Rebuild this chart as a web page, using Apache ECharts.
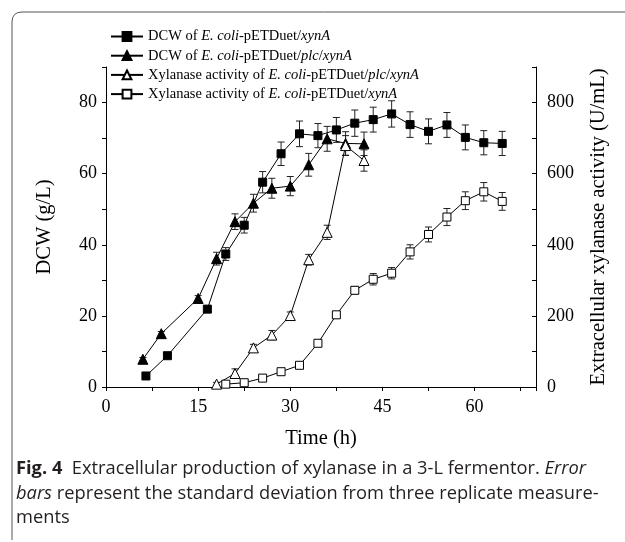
<!DOCTYPE html>
<html>
<head>
<meta charset="utf-8">
<script src="https://cdn.jsdelivr.net/npm/echarts@6/dist/echarts.min.js"></script>
<style>
html,body{margin:0;padding:0;background:#fff;}
#chart{width:625px;height:542px;}
</style>
</head>
<body>
<div id="chart"></div>
<script>
// ---- Data (time in h; DCW in g/L; xylanase in U/mL) ----
const seriesNames = [
  'DCW of E. coli-pETDuet/xynA',
  'DCW of E. coli-pETDuet/plc/xynA',
  'Xylanase activity of E. coli-pETDuet/plc/xynA',
  'Xylanase activity of E. coli-pETDuet/xynA'
];
const timeXynA = [6.5, 10, 16.5, 19.5, 22.5, 25.5, 28.5, 31.5, 34.5, 37.5, 40.5, 43.5, 46.5, 49.5, 52.5, 55.5, 58.5, 61.5, 64.5];
const dcwXynA = [3.1, 8.8, 21.9, 37.4, 45.5, 57.6, 65.6, 71.2, 70.7, 72.3, 74.2, 75.2, 76.8, 73.8, 71.9, 73.7, 70.2, 68.7, 68.5];
const dcwXynAErr = [0.5, 0.6, 0.8, 1.8, 2.2, 3.0, 3.3, 3.6, 3.4, 3.5, 3.7, 3.5, 3.7, 3.6, 3.5, 3.5, 3.5, 3.4, 3.4];

const timePlc = [6, 9, 15, 18, 21, 24, 27, 30, 33, 36, 39, 42];
const dcwPlc = [7.8, 15.0, 24.9, 36.1, 46.5, 51.7, 55.9, 56.5, 62.5, 69.8, 68.5, 68.4];
const dcwPlcErr = [0.5, 0.6, 0.8, 1.8, 2.2, 2.5, 2.8, 2.7, 3.2, 3.5, 3.3, 3.3];

const timeXylPlc = [18, 21, 24, 27, 30, 33, 36, 39, 42];
const xylPlc = [8, 38, 110, 146, 201, 358, 435, 679, 637];
const xylPlcErr = [5, 13, 10, 13, 10, 15, 20, 28, 30];

const timeXylXynA = [19.5, 22.5, 25.5, 28.5, 31.5, 34.5, 37.5, 40.5, 43.5, 46.5, 49.5, 52.5, 55.5, 58.5, 61.5, 64.5];
const xylXynA = [8, 12, 25, 43, 61, 123, 203, 272, 303, 320, 380, 429, 478, 524, 549, 522];
const xylXynAErr = [4, 5, 5, 6, 6, 6, 6, 10, 16, 16, 20, 21, 24, 25, 26, 25];

const xLabels = [0, 15, 30, 45, 60];
const yLeftLabels = [0, 20, 40, 60, 80];
const yRightLabels = [0, 200, 400, 600, 800];

// ---- Helpers ----
const serif = 'Liberation Serif';
const sans = 'Open Sans';
function pairs(xs, ys) { return xs.map((x, i) => [x, ys[i]]); }
function errData(xs, ys, es) { return xs.map((x, i) => [x, ys[i] - es[i], ys[i] + es[i]]); }
function errSeries(data, yIdx) {
  return {
    type: 'custom',
    yAxisIndex: yIdx,
    z: 1,
    silent: true,
    data: data,
    renderItem: function (params, api) {
      const x = api.value(0);
      const lo = api.coord([x, api.value(1)]);
      const hi = api.coord([x, api.value(2)]);
      const w = 3.5;
      const st = { stroke: '#222', lineWidth: 1, fill: null };
      return {
        type: 'group',
        children: [
          { type: 'line', shape: { x1: lo[0], y1: lo[1], x2: hi[0], y2: hi[1] }, style: st },
          { type: 'line', shape: { x1: lo[0] - w, y1: lo[1], x2: lo[0] + w, y2: lo[1] }, style: st },
          { type: 'line', shape: { x1: hi[0] - w, y1: hi[1], x2: hi[0] + w, y2: hi[1] }, style: st }
        ]
      };
    }
  };
}
function lineSeries(name, data, symbol, size, filled, yIdx) {
  return {
    name: name,
    type: 'line',
    yAxisIndex: yIdx,
    data: data,
    z: 3,
    symbol: symbol,
    symbolSize: size,
    showAllSymbol: true,
    lineStyle: { color: '#000', width: 1 },
    itemStyle: { color: filled ? '#000' : '#fff', borderColor: '#000', borderWidth: 1 },
    emphasis: { disabled: true },
    animation: false
  };
}

const chart = echarts.init(document.getElementById('chart'), null, { renderer: 'canvas' });
const axisLineStyle = { show: true, lineStyle: { color: '#000', width: 1 } };
const frameStyle = { stroke: '#555', lineWidth: 1, fill: null };
const nameStyle = { fontFamily: serif, fontSize: 20.5, color: '#000' };
const capFill = '#231f20';
const capSize = 18.3;

chart.setOption({
  animation: false,
  backgroundColor: '#fff',
  grid: { left: 106, right: 89, top: 67, bottom: 155 },
  legend: {
    orient: 'vertical',
    left: 105,
    top: 24,
    itemWidth: 32,
    itemHeight: 11,
    itemGap: 4.2,
    data: seriesNames,
    textStyle: {
      fontFamily: serif, fontSize: 14.5, color: '#000', lineHeight: 14.5,
      rich: { i: { fontFamily: serif, fontSize: 14.5, fontStyle: 'italic', color: '#000', lineHeight: 14.5 } }
    },
    formatter: function (name) { return name.replace(/(E\. coli|plc|xynA)/g, '{i|$1}'); }
  },
  xAxis: {
    type: 'value', min: 0, max: 70, interval: 7.5,
    name: 'Time (h)', nameLocation: 'middle', nameGap: 41,
    nameTextStyle: nameStyle,
    axisLine: axisLineStyle,
    axisTick: { show: true, length: 4, lineStyle: { color: '#000' } },
    axisLabel: {
      fontFamily: serif, fontSize: 18, color: '#000', margin: 11,
      formatter: v => xLabels.indexOf(Math.round(v * 10) / 10) >= 0 ? String(v) : ''
    },
    splitLine: { show: false }
  },
  yAxis: [
    {
      type: 'value', min: 0, max: 90, interval: 10,
      name: 'DCW (g/L)', nameLocation: 'middle', nameGap: 51, nameRotate: 90,
      nameTextStyle: nameStyle,
      axisLine: axisLineStyle,
      axisTick: { show: true, length: 4, lineStyle: { color: '#000' } },
      axisLabel: {
        fontFamily: serif, fontSize: 18, color: '#000', margin: 9,
        formatter: v => yLeftLabels.indexOf(v) >= 0 ? String(v) : ''
      },
      splitLine: { show: false }
    },
    {
      type: 'value', min: 0, max: 900, interval: 100, position: 'right',
      name: 'Extracellular xylanase activity (U/mL)', nameLocation: 'middle', nameGap: 52, nameRotate: 90,
      nameTextStyle: nameStyle,
      axisLine: axisLineStyle,
      axisTick: { show: true, inside: true, length: 4, lineStyle: { color: '#000' } },
      axisLabel: {
        fontFamily: serif, fontSize: 18, color: '#000', margin: 11,
        formatter: v => yRightLabels.indexOf(v) >= 0 ? String(v) : ''
      },
      splitLine: { show: false }
    }
  ],
  series: [
    errSeries(errData(timeXynA, dcwXynA, dcwXynAErr), 0),
    errSeries(errData(timePlc, dcwPlc, dcwPlcErr), 0),
    errSeries(errData(timeXylPlc, xylPlc, xylPlcErr), 1),
    errSeries(errData(timeXylXynA, xylXynA, xylXynAErr), 1),
    lineSeries(seriesNames[0], pairs(timeXynA, dcwXynA), 'rect', 8, true, 0),
    lineSeries(seriesNames[1], pairs(timePlc, dcwPlc), 'triangle', 10, true, 0),
    lineSeries(seriesNames[2], pairs(timeXylPlc, xylPlc), 'triangle', 10, false, 1),
    lineSeries(seriesNames[3], pairs(timeXylXynA, xylXynA), 'rect', 8, false, 1)
  ],
  graphic: [
    { type: 'polyline', silent: true, shape: { points: [[12, 540], [12, 22]] }, style: frameStyle },
    { type: 'bezierCurve', silent: true, shape: { x1: 12, y1: 22, x2: 22, y2: 12, cpx1: 12, cpy1: 12 }, style: frameStyle },
    { type: 'polyline', silent: true, shape: { points: [[22, 12], [625, 12]] }, style: frameStyle },
    {
      type: 'text', left: 16, top: 460, silent: true,
      style: {
        text: '{b|Fig. 4}  Extracellular production of xylanase in a 3-L fermentor. {it|Error}',
        font: capSize + 'px "' + sans + '"', fill: capFill,
        rich: {
          b: { fontFamily: sans, fontWeight: 'bold', fontSize: capSize, fill: capFill },
          it: { fontFamily: sans, fontStyle: 'italic', fontSize: capSize, fill: capFill }
        }
      }
    },
    {
      type: 'text', left: 16, top: 485, silent: true,
      style: {
        text: '{it|bars} represent the standard deviation from three replicate measure-',
        font: capSize + 'px "' + sans + '"', fill: capFill,
        rich: { it: { fontFamily: sans, fontStyle: 'italic', fontSize: capSize, fill: capFill } }
      }
    },
    {
      type: 'text', left: 16, top: 509, silent: true,
      style: { text: 'ments', font: capSize + 'px "' + sans + '"', fill: capFill }
    }
  ]
});
</script>
</body>
</html>
